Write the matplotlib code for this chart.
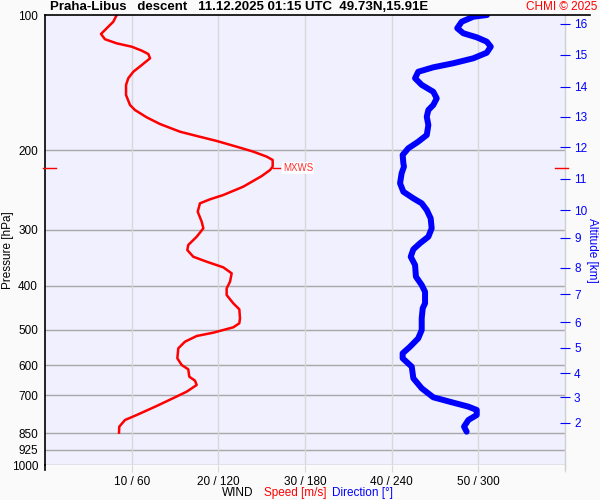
import matplotlib
matplotlib.use('Agg')
import matplotlib.pyplot as plt
from matplotlib.lines import Line2D

# wind speed profile [hPa], [m/s]
speed_hpa = [100.0, 103.5, 110.2, 113.2, 115.6, 117.6, 120.0, 122.1, 124.8, 129.2,
             133.7, 138.2, 143.0, 150.6, 158.5, 162.6, 168.8, 174.7, 181.7, 185.7,
             190.5, 196.2, 201.2, 206.4, 210.0, 217.3, 221.1, 228.0, 240.7, 251.2,
             256.8, 262.1, 273.6, 288.0, 297.9, 311.0, 324.4, 332.9, 344.5, 353.4,
             363.7, 375.0, 391.4, 405.0, 419.1, 437.3, 450.8, 472.1, 484.3, 494.3,
             508.1, 516.8, 532.1, 550.4, 579.3, 599.5, 612.8, 636.5, 649.6, 664.0,
             687.1, 707.2, 739.3, 774.3, 794.3, 821.9, 847.5]
speed_ms = [8.27, 7.88, 6.46, 6.92, 8.27, 10.0, 11.16, 11.92, 12.12, 11.16,
            10.19, 9.61, 9.35, 9.35, 9.81, 10.38, 11.73, 13.27, 15.58, 17.50,
            19.81, 22.12, 24.03, 25.58, 26.27, 26.27, 25.96, 25.0, 22.88, 20.57,
            19.04, 17.88, 17.62, 18.08, 18.27, 17.50, 16.53, 16.42, 17.11, 18.66,
            20.57, 21.54, 21.35, 20.96, 20.96, 21.73, 22.42, 22.50, 22.42, 21.73,
            19.42, 17.50, 16.15, 15.38, 15.27, 15.77, 16.53, 16.65, 17.31, 17.50,
            16.35, 15.0, 12.89, 10.58, 9.23, 8.57, 8.54]

# wind direction profile [hPa], [deg]
dir_hpa = [100.0, 100.9, 103.5, 107.0, 109.8, 112.1, 114.6, 117.6, 121.3, 124.8,
           128.0, 130.7, 133.7, 138.2, 143.0, 148.1, 153.2, 158.5, 162.6, 168.3,
           175.6, 184.8, 191.2, 197.8, 204.7, 213.6, 217.3, 224.8, 236.6, 247.0,
           255.5, 262.1, 271.3, 283.0, 297.9, 311.0, 321.6, 331.7, 344.5, 359.4,
           381.5, 398.1, 412.1, 437.3, 448.5, 472.1, 501.2, 523.0, 546.0, 564.7,
           579.3, 604.7, 641.6, 675.4, 707.2, 727.0, 741.9, 754.6, 774.3, 794.3,
           821.9, 843.3]
dir_deg = [306.0, 296.5, 288.5, 285.4, 289.6, 298.9, 305.8, 308.6, 305.8, 296.5,
           282.7, 268.8, 258.4, 256.2, 260.8, 268.8, 271.2, 268.8, 265.4, 264.3,
           265.4, 264.3, 258.4, 251.5, 247.6, 248.1, 248.5, 246.9, 245.8, 248.1,
           255.0, 260.8, 264.3, 267.0, 267.7, 265.4, 259.6, 255.0, 253.2, 256.2,
           256.8, 260.8, 263.1, 263.1, 261.5, 260.8, 260.8, 258.4, 252.7, 247.6,
           247.6, 253.9, 255.0, 260.8, 268.8, 282.7, 293.1, 298.9, 298.9, 293.1,
           290.1, 291.9]

# max wind
mxws_hpa = 218.8
mxws_ms = 26.27

p_ticks = [100, 200, 300, 400, 500, 600, 700, 850, 925, 1000]
spd_ticks = [10, 20, 30, 40, 50]
dir_ticks = [60, 120, 180, 240, 300]
alt_km = [2, 3, 4, 5, 6, 7, 8, 9, 10, 11, 12, 13, 14, 15, 16]
alt_hpa = [806.6, 706.2, 624.6, 549.5, 481.2, 416.9, 364.9, 313.0, 271.3,
           231.4, 196.5, 168.5, 144.5, 122.7, 104.7]

title = "Praha-Libus   descent   11.12.2025 01:15 UTC  49.73N,15.91E"

plt.rcParams['font.family'] = ['Liberation Sans', 'DejaVu Sans']

fig = plt.figure(figsize=(6, 5), dpi=100, facecolor='#fafafa')
ax = fig.add_axes([45 / 600, 35 / 500, 520 / 600, 450 / 500])
ax.set_facecolor('#f0f0ff')

ax.set_yscale('log')
ax.set_ylim(1000, 100)
ax.set_xlim(0, 60)
ax.minorticks_off()
ax.set_yticks(p_ticks)
ax.set_yticklabels([str(p) for p in p_ticks], fontsize=8.5)
ax.set_xticks(spd_ticks + [60])
ax.set_xticklabels([f"{s} / {d}" for s, d in zip(spd_ticks, dir_ticks)] + [''], fontsize=8.5)
ax.tick_params(axis='y', length=0, pad=5)
ax.tick_params(axis='x', length=5, color='#d8d8d8', pad=3)

for p in p_ticks[1:]:
    ax.axhline(p, color='#a8a8a8', lw=1.0, zorder=1)
for s in spd_ticks:
    ax.axvline(s, color='#d8d8d8', lw=1.0, zorder=1)

for side in ['bottom', 'top']:
    ax.spines[side].set_visible(False)
ax.spines['left'].set_color('black')
ax.spines['left'].set_linewidth(1.2)
ax.spines['right'].set_color('#d0d0d0')
ax.spines['right'].set_linewidth(1.0)

ax.plot(speed_ms, speed_hpa, color='red', lw=1.8, zorder=3)

axd = ax.twiny()
axd.set_xlim(0, 360)
axd.set_xticks([])
for sp in axd.spines.values():
    sp.set_visible(False)
axd.plot(dir_deg, dir_hpa, color='blue', lw=4.3, zorder=3, solid_capstyle='round')

# MXWS marker
ax.plot([mxws_ms, mxws_ms + 0.9], [mxws_hpa, mxws_hpa], color='red', lw=1.0, zorder=3)
ax.text(mxws_ms + 1.2, mxws_hpa, 'MXWS', color='#ff3030', fontsize=7, va='center', ha='left',
        bbox=dict(facecolor='white', edgecolor='none', pad=0.5), zorder=4)

# altitude axis
ax2 = ax.twinx()
ax2.set_yscale('log')
ax2.set_ylim(1000, 100)
ax2.minorticks_off()
ax2.set_yticks(alt_hpa)
ax2.set_yticklabels([str(k) for k in alt_km], fontsize=8.5, color='blue')
ax2.tick_params(axis='y', colors='blue', length=7, direction='inout', pad=3)
for sp in ax2.spines.values():
    sp.set_visible(False)

# red MXWS ticks on both sides
y_mx = ax.transData.transform((0, mxws_hpa))[1]
y_mx = fig.transFigure.inverted().transform((0, y_mx))[1]
fig.add_artist(Line2D([43 / 600, 56 / 600], [y_mx, y_mx], color='red', lw=1.0))
fig.add_artist(Line2D([555 / 600, 568 / 600], [y_mx, y_mx], color='red', lw=1.0))

# frame extras
fig.add_artist(Line2D([45 / 600, 590 / 600], [1 - 15 / 500, 1 - 15 / 500], color='black', lw=1.2))
fig.add_artist(Line2D([45 / 600, 45 / 600], [1 - 465 / 500, 1 - 470 / 500], color='black', lw=1.2))
fig.add_artist(Line2D([565 / 600, 565 / 600], [1 - 465 / 500, 1 - 470 / 500], color='#d0d0d0', lw=1.0))

fig.text(8 / 600, 1 - 250 / 500, 'Pressure [hPa]', fontsize=8.5, rotation=90, ha='center', va='center')
fig.text(592 / 600, 1 - 250 / 500, 'Altitude [km]', fontsize=8.5, color='blue', rotation=270,
         ha='center', va='center')

fig.text(50 / 600, 1 - 7 / 500, title, fontsize=9.5, fontweight='bold', ha='left', va='center')
fig.text(597 / 600, 1 - 7 / 500, 'CHMI © 2025', fontsize=8.5, color='red', ha='right', va='center')

fig.text(253 / 600, 1 - 493 / 500, 'WIND', fontsize=8.5, color='black', ha='right', va='center')
fig.text(264 / 600, 1 - 493 / 500, 'Speed [m/s]', fontsize=8.5, color='red', ha='left', va='center')
fig.text(332 / 600, 1 - 493 / 500, 'Direction [°]', fontsize=8.5, color='blue', ha='left', va='center')

fig.savefig('out.png', dpi=100, facecolor=fig.get_facecolor())
